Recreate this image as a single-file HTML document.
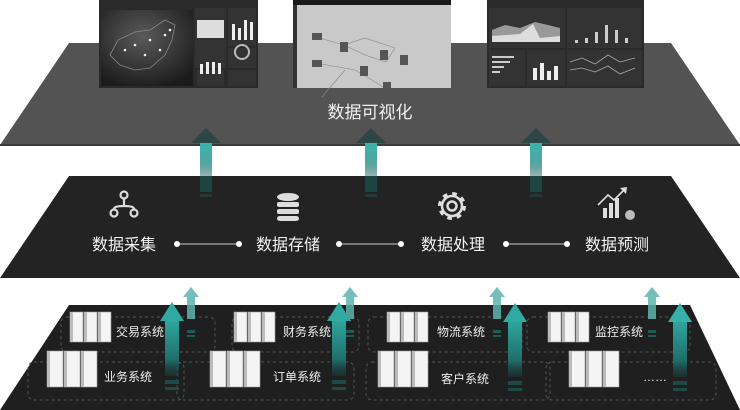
<!DOCTYPE html>
<html><head><meta charset="utf-8"><style>
html,body{margin:0;padding:0;background:#fff;}
svg{display:block;}
text{font-family:"Liberation Sans","Noto Sans CJK SC",sans-serif;}
</style></head><body>
<svg width="740" height="410" viewBox="0 0 740 410" xmlns="http://www.w3.org/2000/svg">
<defs>
<linearGradient id="stem" x1="0" y1="0" x2="0" y2="1">
<stop offset="0" stop-color="#3bb5ae"/><stop offset="0.6" stop-color="#2a8f8a" stop-opacity="0.8"/><stop offset="1" stop-color="#1e5552" stop-opacity="0.4"/>
</linearGradient>
<linearGradient id="stem2" x1="0" y1="0" x2="0" y2="1">
<stop offset="0" stop-color="#2fa59f"/><stop offset="0.7" stop-color="#1f6e6a"/><stop offset="1" stop-color="#1a3b3a" stop-opacity="0.5"/>
</linearGradient>
<radialGradient id="map" cx="0.45" cy="0.35" r="0.7">
<stop offset="0" stop-color="#5a5a5a"/><stop offset="1" stop-color="#1c1c1c"/>
</radialGradient>
</defs>

<polygon points="69,43 671,43 740,145 0,145" fill="#535353"/>
<line x1="0" y1="145" x2="740" y2="145" stroke="#3a3a3a" stroke-width="2"/>

<rect x="99" y="0" width="159" height="88" fill="#2a2a2a"/>
<rect x="101" y="10" width="92" height="76" fill="url(#map)"/>
<path d="M110,55 L118,40 L135,32 L150,30 L165,20 L175,25 L172,40 L165,55 L150,68 L135,70 L120,65 Z" fill="none" stroke="#888" stroke-width="0.8"/>
<g fill="#eee"><circle cx="135" cy="45" r="1.3"/><circle cx="150" cy="40" r="1.3"/><circle cx="160" cy="50" r="1.3"/><circle cx="165" cy="35" r="1.3"/><circle cx="145" cy="55" r="1.3"/><circle cx="170" cy="30" r="1.3"/><circle cx="125" cy="50" r="1.3"/></g>
<rect x="195" y="8" width="31" height="60" fill="#333"/><rect x="197" y="20" width="27" height="18" fill="#ddd"/>
<rect x="197" y="70" width="27" height="16" fill="#333"/>
<rect x="228" y="8" width="28" height="38" fill="#333"/>
<g fill="#eee"><rect x="232" y="24" width="3" height="16"/><rect x="238" y="28" width="3" height="12"/><rect x="244" y="20" width="3" height="20"/><rect x="250" y="22" width="3" height="18"/></g>
<rect x="228" y="48" width="28" height="20" fill="#333"/><circle cx="242" cy="52" r="7" fill="none" stroke="#bbb" stroke-width="2"/>
<rect x="228" y="70" width="28" height="16" fill="#333"/>
<g fill="#eee"><rect x="200" y="64" width="3" height="10"/><rect x="206" y="62" width="3" height="12"/><rect x="212" y="62" width="3" height="12"/><rect x="218" y="63" width="3" height="11"/></g>

<rect x="293" y="0" width="158" height="88" fill="#c9c9c9"/>
<rect x="293" y="0" width="158" height="5" fill="#1a1a1a"/>
<rect x="293" y="5" width="4" height="83" fill="#333"/>
<g stroke="#888" stroke-width="0.6" fill="none"><path d="M316,37 L344,45 L365,55 L386,62 L395,48 L365,38 L344,45"/><path d="M316,63 L355,70 L385,88"/><path d="M322,97 L345,70"/></g>
<g fill="#555"><rect x="312" y="33" width="10" height="7"/><rect x="312" y="60" width="10" height="7"/><rect x="340" y="42" width="8" height="10"/><rect x="360" y="66" width="8" height="10"/><rect x="380" y="50" width="8" height="10"/><rect x="400" y="55" width="8" height="10"/><rect x="383" y="82" width="8" height="6"/></g>

<rect x="487" y="0" width="157" height="88" fill="#2a2a2a"/>
<rect x="489" y="8" width="76" height="40" fill="#333"/>
<path d="M492,30 L505,25 L520,28 L535,22 L548,25 L560,28 L560,42 L492,42 Z" fill="#999"/>
<path d="M492,36 L520,34 L533,24 L540,38 L560,36 L560,42 L492,42 Z" fill="#ddd"/>
<rect x="567" y="8" width="75" height="40" fill="#333"/>
<g fill="#ccc"><rect x="575" y="40" width="3" height="3"/><rect x="585" y="38" width="3" height="5"/><rect x="595" y="32" width="3" height="11"/><rect x="605" y="25" width="3" height="18"/><rect x="615" y="30" width="3" height="13"/><rect x="625" y="38" width="3" height="5"/></g>
<rect x="489" y="50" width="36" height="36" fill="#333"/>
<g fill="#ccc"><rect x="492" y="56" width="22" height="2"/><rect x="492" y="61" width="18" height="2"/><rect x="492" y="66" width="12" height="2"/><rect x="492" y="71" width="8" height="2"/></g>
<rect x="527" y="50" width="38" height="36" fill="#333"/>
<g fill="#eee"><rect x="533" y="68" width="4" height="12"/><rect x="540" y="63" width="4" height="17"/><rect x="547" y="71" width="4" height="9"/><rect x="554" y="66" width="4" height="14"/></g>
<rect x="567" y="50" width="75" height="36" fill="#333"/>
<path d="M570,62 L582,58 L595,64 L608,55 L620,62 L635,58" fill="none" stroke="#aaa" stroke-width="0.8"/>
<path d="M570,70 L582,68 L595,72 L608,66 L620,74 L635,68" fill="none" stroke="#aaa" stroke-width="0.8"/>

<text x="370" y="118" font-size="17" fill="#f0f0f0" text-anchor="middle">数据可视化</text>

<g>
<rect x="200" y="143" width="12" height="35" fill="url(#stem)"/>
<polygon points="206,128 221,143 191,143" fill="#2c4745"/>
<rect x="365" y="143" width="12" height="35" fill="url(#stem)"/>
<polygon points="371,128 386,143 356,143" fill="#2c4745"/>
<rect x="530" y="143" width="12" height="35" fill="url(#stem)"/>
<polygon points="536,128 551,143 521,143" fill="#2c4745"/>
</g>

<polygon points="69,176 671,176 740,278 0,278" fill="#232323"/>
<g fill="#1e4442"><rect x="200" y="176" width="12" height="16"/><rect x="365" y="176" width="12" height="16"/><rect x="530" y="176" width="12" height="16"/></g>
<g fill="#203a39"><rect x="200" y="194" width="12" height="3"/><rect x="365" y="194" width="12" height="3"/><rect x="530" y="194" width="12" height="3"/></g>

<g stroke="#ddd" stroke-width="2.2" fill="none">
<circle cx="124" cy="195" r="3.5"/><circle cx="114" cy="213" r="3.5"/><circle cx="134" cy="213" r="3.5"/>
<path d="M124,199 L124,206 M114,209 Q114,206 124,206 Q134,206 134,209"/>
</g>
<g fill="#ddd">
<ellipse cx="288" cy="197" rx="11" ry="4"/>
<rect x="277" y="202" width="22" height="5" rx="2"/>
<rect x="277" y="209" width="22" height="5" rx="2"/>
<rect x="277" y="216" width="22" height="5" rx="3"/>
</g>
<g transform="translate(452,206)">
<circle r="12" fill="none" stroke="#ddd" stroke-width="4" stroke-dasharray="4.5 4.9"/>
<circle r="10" fill="none" stroke="#ddd" stroke-width="2.5"/>
<circle r="4.5" fill="none" stroke="#ddd" stroke-width="2.5"/>
</g>
<g fill="#ddd">
<rect x="603" y="208" width="4" height="10"/><rect x="609" y="203" width="4" height="15"/><rect x="615" y="198" width="4" height="20"/>
<circle cx="630" cy="215" r="5" fill="#bbb"/>
</g>
<path d="M598,205 L608,195 L614,200 L625,189" stroke="#ddd" stroke-width="1.6" fill="none"/>
<polygon points="627,187 620,188 626,194" fill="#ddd"/>

<g font-size="16" fill="#f2f2f2" text-anchor="middle">
<text x="124" y="250">数据采集</text><text x="288" y="250">数据存储</text>
<text x="453" y="250">数据处理</text><text x="617" y="250">数据预测</text>
</g>
<g stroke="#ccc" stroke-width="1"><line x1="177" y1="244" x2="239" y2="244"/><line x1="339" y1="244" x2="401" y2="244"/><line x1="506" y1="244" x2="567" y2="244"/></g>
<g fill="#fff"><circle cx="177" cy="244" r="3"/><circle cx="239" cy="244" r="3"/><circle cx="339" cy="244" r="3"/><circle cx="401" cy="244" r="3"/><circle cx="506" cy="244" r="3"/><circle cx="567" cy="244" r="3"/></g>

<polygon points="69,305 690,305 740,410 0,410" fill="#1f1f1f"/>
<g fill="none" stroke="#555" stroke-width="1" stroke-dasharray="3 3">
<rect x="61" y="317" width="154" height="35" rx="6"/>
<rect x="232" y="317" width="127" height="35" rx="6"/>
<rect x="368" y="317" width="154" height="35" rx="6"/>
<rect x="527" y="317" width="163" height="35" rx="6"/>
<rect x="28" y="362" width="156" height="38" rx="6"/>
<rect x="177" y="362" width="177" height="38" rx="6"/>
<rect x="366" y="362" width="184" height="38" rx="6"/>
<rect x="546" y="362" width="170" height="38" rx="6"/>
</g>

<g fill="#f4f4f4" stroke="#999" stroke-width="0.6">
<rect x="70" y="312" width="13" height="30"/><rect x="84" y="312" width="13" height="30"/><rect x="98" y="312" width="13" height="30"/>
<rect x="234" y="312" width="13" height="30"/><rect x="248" y="312" width="13" height="30"/><rect x="262" y="312" width="13" height="30"/>
<rect x="387" y="312" width="13" height="30"/><rect x="401" y="312" width="13" height="30"/><rect x="415" y="312" width="13" height="30"/>
<rect x="548" y="312" width="13" height="30"/><rect x="562" y="312" width="13" height="30"/><rect x="576" y="312" width="13" height="30"/>
<rect x="47" y="351" width="16" height="36"/><rect x="64" y="351" width="16" height="36"/><rect x="81" y="351" width="16" height="36"/>
<rect x="210" y="351" width="16" height="36"/><rect x="227" y="351" width="16" height="36"/><rect x="244" y="351" width="16" height="36"/>
<rect x="378" y="351" width="16" height="36"/><rect x="395" y="351" width="16" height="36"/><rect x="412" y="351" width="16" height="36"/>
<rect x="569" y="351" width="16" height="36"/><rect x="586" y="351" width="16" height="36"/><rect x="603" y="351" width="16" height="36"/>
</g>
<g fill="#bbb">
<rect x="70" y="312" width="3" height="30"/><rect x="84" y="312" width="3" height="30"/><rect x="98" y="312" width="3" height="30"/>
<rect x="234" y="312" width="3" height="30"/><rect x="248" y="312" width="3" height="30"/><rect x="262" y="312" width="3" height="30"/>
<rect x="387" y="312" width="3" height="30"/><rect x="401" y="312" width="3" height="30"/><rect x="415" y="312" width="3" height="30"/>
<rect x="548" y="312" width="3" height="30"/><rect x="562" y="312" width="3" height="30"/><rect x="576" y="312" width="3" height="30"/>
<rect x="47" y="351" width="3" height="36"/><rect x="64" y="351" width="3" height="36"/><rect x="81" y="351" width="3" height="36"/>
<rect x="210" y="351" width="3" height="36"/><rect x="227" y="351" width="3" height="36"/><rect x="244" y="351" width="3" height="36"/>
<rect x="378" y="351" width="3" height="36"/><rect x="395" y="351" width="3" height="36"/><rect x="412" y="351" width="3" height="36"/>
<rect x="569" y="351" width="3" height="36"/><rect x="586" y="351" width="3" height="36"/><rect x="603" y="351" width="3" height="36"/>
</g>

<g font-size="12" fill="#eee" text-anchor="middle">
<text x="140" y="336">交易系统</text><text x="307" y="336">财务系统</text>
<text x="461" y="336">物流系统</text><text x="619" y="336">监控系统</text>
<text x="128" y="381">业务系统</text><text x="297" y="381">订单系统</text>
<text x="465" y="383">客户系统</text><text x="655" y="381">……</text>
</g>

<g fill="#5fb3ae" opacity="0.85">
<polygon points="191,287 199,297 183,297"/><rect x="187" y="297" width="8" height="22"/>
<polygon points="350,287 358,297 342,297"/><rect x="346" y="297" width="8" height="22"/>
<polygon points="497,287 505,297 489,297"/><rect x="493" y="297" width="8" height="22"/>
<polygon points="652,287 660,297 644,297"/><rect x="648" y="297" width="8" height="22"/>
</g>
<g fill="#1f5b58"><rect x="187" y="330" width="8" height="3"/><rect x="187" y="335" width="8" height="2"/><rect x="346" y="330" width="8" height="3"/><rect x="346" y="335" width="8" height="2"/><rect x="493" y="330" width="8" height="3"/><rect x="493" y="335" width="8" height="2"/><rect x="648" y="330" width="8" height="3"/><rect x="648" y="335" width="8" height="2"/></g>

<g>
<polygon points="172,302 184,321 160,321" fill="#2fa9a2"/><rect x="165" y="321" width="14" height="55" fill="url(#stem2)"/>
<polygon points="339,302 351,321 327,321" fill="#2fa9a2"/><rect x="332" y="321" width="14" height="55" fill="url(#stem2)"/>
<polygon points="515,303 527,322 503,322" fill="#2fa9a2"/><rect x="508" y="322" width="14" height="55" fill="url(#stem2)"/>
<polygon points="680,303 692,322 668,322" fill="#36b1aa"/><rect x="673" y="322" width="14" height="55" fill="url(#stem2)"/>
</g>
<g fill="#1d4947"><rect x="165" y="380" width="14" height="4"/><rect x="165" y="387" width="14" height="3"/><rect x="332" y="380" width="14" height="4"/><rect x="332" y="387" width="14" height="3"/><rect x="508" y="381" width="14" height="4"/><rect x="508" y="388" width="14" height="3"/><rect x="673" y="381" width="14" height="4"/><rect x="673" y="388" width="14" height="3"/></g>
</svg>
</body></html>
